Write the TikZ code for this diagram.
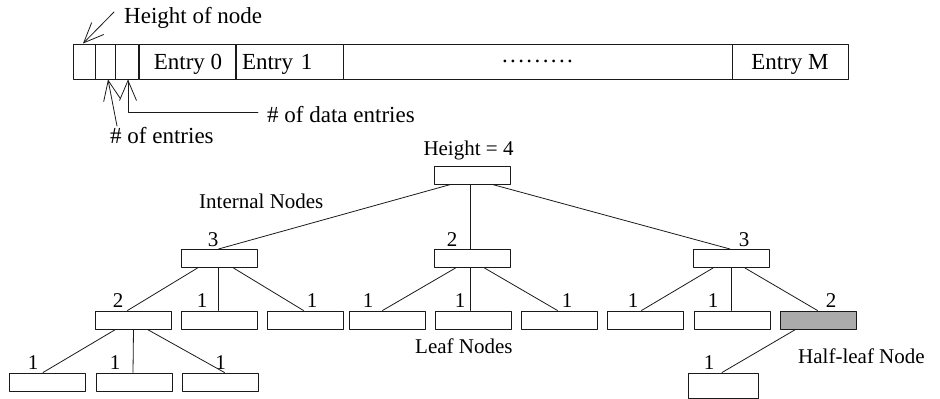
\documentclass[tikz,border=0pt]{standalone}
\usepackage{fontspec}
\setmainfont{Liberation Serif}
\usetikzlibrary{arrows.meta, calc}
\providecommand{\FigFont}{\fontsize{21pt}{25pt}\selectfont}
\providecommand{\TopFont}{\fontsize{23pt}{27pt}\selectfont}
\definecolor{halfFill}{HTML}{ABABAB}
\definecolor{lineCol}{HTML}{1A1A1A}

\begin{document}
\begin{tikzpicture}[x=1pt, y=-1pt, line cap=round, line join=round,
  font=\FigFont, label distance=2.5pt]

\useasboundingbox (0,0) rectangle (940,399);

\tikzset{
  cellbox/.style={draw=lineCol, line width=1pt, minimum height=35pt,
                  inner sep=0pt, text depth=0pt, font=\TopFont},
  treebox/.style={draw=lineCol, line width=1pt, minimum width=76pt,
                  minimum height=18pt, inner sep=0pt},
  numlab/.style={inner sep=0pt},
  textlab/.style={anchor=base west, inner sep=0pt},
  link/.style={lineCol, line width=0.8pt},
  barb/.style={lineCol, line width=0.8pt,
               -{Straight Barb[length=20pt, width=17pt]}},
}

% node layout
\node[cellbox, minimum width=22pt] (hc) at (84,61.5) {};
\node[cellbox, minimum width=20pt] (nc) at (105,61.5) {};
\node[cellbox, minimum width=23pt] (dc) at (126.5,61.5) {};
\node[cellbox, minimum width=97pt] (e0) at (188,61.5) {Entry 0};
\node[cellbox, minimum width=108pt, text width=94pt, align=left] (e1)
      at (289,61.5) {Entry 1};
\node[cellbox, minimum width=389pt] (ed) at (537.5,61.5)
      {.\kern2.4pt.\kern2.4pt.\kern2.4pt.\kern2.4pt.\kern2.4pt.\kern2.4pt.\kern2.4pt.\kern2.4pt.};
\node[cellbox, minimum width=116pt] (eM) at (790,61.5) {Entry M};

\node[textlab, font=\TopFont] (htLab) at (124,23) {Height of node};
\node[textlab, font=\TopFont] (neLab) at (110,143) {\# of entries};
\node[textlab, font=\TopFont] (deLab) at (267,122) {\# of data entries};

\coordinate (htTail) at (114,12);
\coordinate (neTail) at (117,126);
\draw[barb] (htTail) -- ([xshift=-1pt]hc.north);
\draw[barb] (neTail) -- ([xshift=3pt]nc.south);
\draw[barb] ([xshift=-9pt, yshift=2pt]deLab.west) -| ([xshift=1.5pt]dc.south);

% tree
\node[treebox] (root) at (472.5,175) {};
\node[anchor=base] (htRoot) at (468.5,155) {Height = 4};

\node[treebox, label={[numlab, xshift=-6.5pt]above:3}] (l2a) at (219.5,258.5) {};
\node[treebox, label={[numlab, xshift=-20.5pt]above:2}] (l2b) at (472.5,258.5) {};
\node[treebox, label={[numlab, xshift=13pt]above:3}] (l2c) at (731,258.5) {};

\foreach \n/\x/\dx/\h in {l3a/133.5/-15.5/2, l3b/219.5/-17.5/1, l3c/305.5/6.5/1,
    l3d/387.5/-19.5/1, l3e/473.5/-13.5/1, l3f/559.5/7.5/1,
    l3g/645.5/-12.5/1, l3h/732/-19/1}
  \node[treebox, label={[numlab, xshift=\dx pt]above:\h}] (\n) at (\x,320) {};
\node[treebox, fill=halfFill, label={[numlab, xshift=12.5pt]above:2}] (l3i)
      at (818.5,320) {};

\foreach \n/\x/\dx in {l4a/47/-14, l4b/134/-19, l4c/220.5/0}
  \node[treebox, label={[numlab, xshift=\dx pt]above:1}] (\n) at (\x,382) {};
\node[treebox, minimum width=70pt, minimum height=25pt,
      label={[numlab, xshift=-14pt]above:1}] (l4d) at (723,385.5) {};

\foreach \p/\c/\ps/\cs in {root/l2a/-22/-1, root/l2b/-2/-2, root/l2c/20/-1,
    l2a/l3a/-22/-6, l2a/l3b/-1/-1, l2a/l3c/14/-2,
    l2b/l3d/-17/-5, l2b/l3e/-2/-3, l2b/l3f/12/-2,
    l2c/l3g/-18/-4, l2c/l3h/0/-1, l2c/l3i/14/-1,
    l3a/l4a/-18/-4, l3a/l4b/0/-1, l3a/l4c/14/4, l3i/l4d/-23/-1}
  \draw[link] ([xshift=\ps pt]\p.south) -- ([xshift=\cs pt]\c.north);

\node[textlab] (intLab) at (199,208) {Internal Nodes};
\node[textlab] (leafLab) at (415,353) {Leaf Nodes};
\node[textlab] (halfLab) at (798,363) {Half-leaf Node};

\end{tikzpicture}
\end{document}
